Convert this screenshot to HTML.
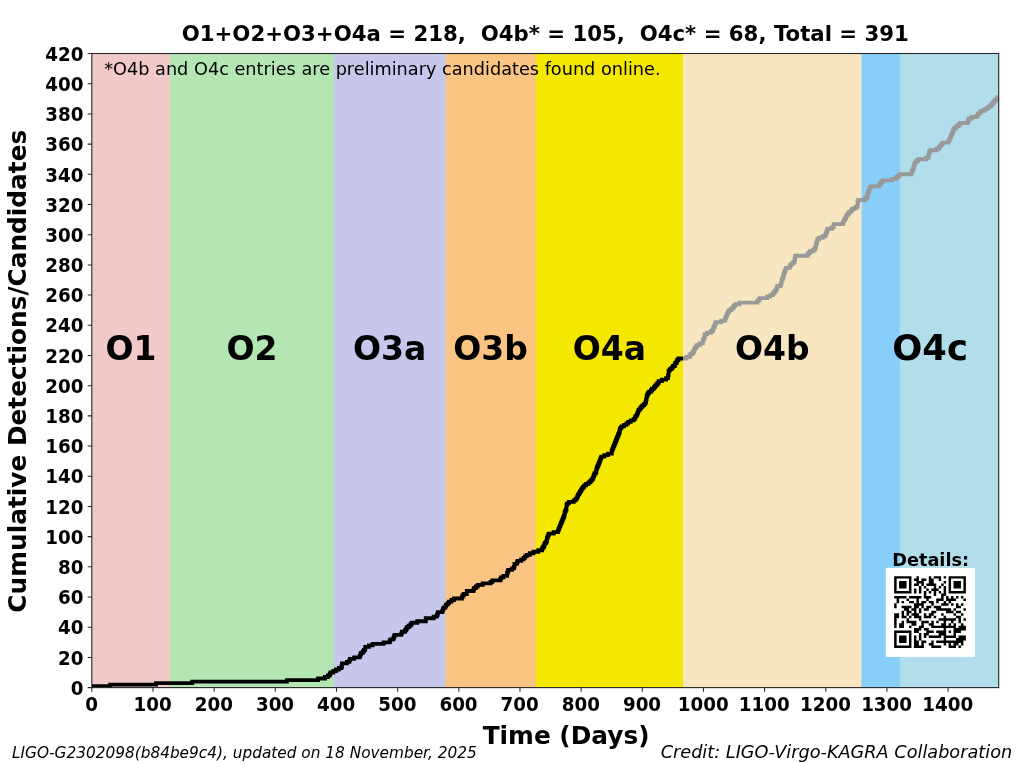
<!DOCTYPE html>
<html lang="en"><head><meta charset="utf-8"><title>Cumulative Detections/Candidates</title>
<style>html,body{margin:0;padding:0;background:#fff;overflow:hidden}svg{display:block}text{font-family:"DejaVu Sans","Liberation Sans",sans-serif;fill:#000}.b{font-weight:bold}.i{font-style:italic}</style></head><body>
<svg width="1019" height="764" viewBox="0 0 1019 764">
<rect width="1019" height="764" fill="#fff"/>
<g>
<rect x="91.85" y="53.5" width="906.95" height="634.1" fill="#f1c9c9"/>
<rect x="169.90" y="53.5" width="828.90" height="634.1" fill="#b3e6b3"/>
<rect x="333.95" y="53.5" width="664.85" height="634.1" fill="#c7c7ec"/>
<rect x="445.50" y="53.5" width="553.30" height="634.1" fill="#fac583"/>
<rect x="535.75" y="53.5" width="463.05" height="634.1" fill="#f4e800"/>
<rect x="683.00" y="53.5" width="315.80" height="634.1" fill="#f8e6c1"/>
<rect x="861.50" y="53.5" width="137.30" height="634.1" fill="#87cefa"/>
<rect x="899.95" y="53.5" width="98.85" height="634.1" fill="#b2deeb"/>
</g>
<clipPath id="ax"><rect x="91.8" y="53.5" width="906.9" height="634.1"/></clipPath>
<g clip-path="url(#ax)" fill="none" stroke-width="3.85" stroke-linejoin="miter" stroke-miterlimit="4" stroke-linecap="butt">
<polyline stroke="#000" points="91.8,686.1 110.2,686.1 110.2,684.6 156.1,684.6 156.1,683.1 192.2,683.1 192.2,681.6 287.0,681.6 287.0,680.1 318.1,680.1 318.1,678.5 324.9,678.5 324.9,677.0 327.9,677.0 327.9,675.5 329.8,675.5 329.8,674.0 330.4,674.0 330.4,672.5 333.4,672.5 333.4,671.0 335.9,671.0 335.9,669.5 338.9,669.5 338.9,668.0 341.4,668.0 341.4,666.5 342.0,666.5 342.0,665.0 342.0,665.0 342.0,663.4 346.9,663.4 346.9,661.9 349.3,661.9 349.3,660.4 349.9,660.4 349.9,658.9 354.2,658.9 354.2,657.4 359.7,657.4 359.7,655.9 360.3,655.9 360.3,654.4 361.0,654.4 361.0,652.9 362.8,652.9 362.8,651.4 364.0,651.4 364.0,649.9 365.2,649.9 365.2,648.3 365.2,648.3 365.2,646.8 368.9,646.8 368.9,645.3 372.6,645.3 372.6,643.8 383.6,643.8 383.6,642.3 389.7,642.3 389.7,640.8 390.3,640.8 390.3,639.3 393.4,639.3 393.4,637.8 394.0,637.8 394.0,636.3 394.6,636.3 394.6,634.8 401.3,634.8 401.3,633.3 401.9,633.3 401.9,631.7 405.0,631.7 405.0,630.2 406.2,630.2 406.2,628.7 406.8,628.7 406.8,627.2 408.7,627.2 408.7,625.7 410.5,625.7 410.5,624.2 411.7,624.2 411.7,622.7 417.2,622.7 417.2,621.2 425.8,621.2 425.8,619.7 425.8,619.7 425.8,618.2 433.7,618.2 433.7,616.6 436.8,616.6 436.8,615.1 437.4,615.1 437.4,613.6 438.0,613.6 438.0,612.1 442.3,612.1 442.3,610.6 442.9,610.6 442.9,609.1 443.5,609.1 443.5,607.6 445.4,607.6 445.4,606.1 446.0,606.1 446.0,604.6 447.8,604.6 447.8,603.1 449.0,603.1 449.0,601.6 451.5,601.6 451.5,600.0 453.9,600.0 453.9,598.5 461.9,598.5 461.9,597.0 462.5,597.0 462.5,595.5 463.7,595.5 463.7,594.0 466.8,594.0 466.8,592.5 466.8,592.5 466.8,591.0 473.5,591.0 473.5,589.5 474.1,589.5 474.1,588.0 475.9,588.0 475.9,586.5 477.8,586.5 477.8,584.9 482.7,584.9 482.7,583.4 490.6,583.4 490.6,581.9 492.4,581.9 492.4,580.4 500.4,580.4 500.4,578.9 501.0,578.9 501.0,577.4 503.5,577.4 503.5,575.9 507.1,575.9 507.1,574.4 507.1,574.4 507.1,572.9 507.7,572.9 507.7,571.4 508.3,571.4 508.3,569.8 512.0,569.8 512.0,568.3 513.9,568.3 513.9,566.8 514.5,566.8 514.5,565.3 514.5,565.3 514.5,563.8 516.9,563.8 516.9,562.3 517.5,562.3 517.5,560.8 521.2,560.8 521.2,559.3 523.6,559.3 523.6,557.8 524.9,557.8 524.9,556.3 526.7,556.3 526.7,554.8 529.8,554.8 529.8,553.2 533.4,553.2 533.4,551.7 535.8,551.7 538.3,551.7 538.3,550.2 542.0,550.2 542.0,548.7 542.6,548.7 542.6,547.2 543.8,547.2 543.8,545.7 544.4,545.7 544.4,544.2 545.0,544.2 545.0,542.7 546.3,542.7 546.3,541.2 546.9,541.2 546.9,538.1 547.5,538.1 547.5,536.6 548.1,536.6 548.1,535.1 548.7,535.1 548.7,533.6 553.6,533.6 553.6,532.1 557.9,532.1 557.9,530.6 558.5,530.6 558.5,529.1 559.1,529.1 559.1,527.6 559.7,527.6 559.7,526.1 560.3,526.1 560.3,524.6 560.9,524.6 560.9,523.0 561.6,523.0 561.6,521.5 562.2,521.5 562.2,520.0 562.8,520.0 562.8,518.5 563.4,518.5 563.4,517.0 564.0,517.0 564.0,515.5 564.6,515.5 564.6,512.5 565.2,512.5 565.2,511.0 565.8,511.0 565.8,509.5 566.5,509.5 566.5,504.9 567.1,504.9 567.1,503.4 568.9,503.4 568.9,501.9 573.8,501.9 573.8,500.4 575.6,500.4 575.6,498.9 576.8,498.9 576.8,497.4 577.5,497.4 577.5,495.9 578.1,495.9 578.1,494.4 579.3,494.4 579.3,492.9 579.9,492.9 579.9,491.3 581.1,491.3 581.1,489.8 581.7,489.8 581.7,488.3 583.0,488.3 583.0,486.8 584.2,486.8 584.2,485.3 586.0,485.3 586.0,483.8 588.5,483.8 588.5,482.3 590.3,482.3 590.3,480.8 591.5,480.8 591.5,479.3 592.8,479.3 592.8,477.8 593.4,477.8 593.4,476.2 594.0,476.2 594.0,474.7 594.6,474.7 594.6,473.2 595.8,473.2 595.8,471.7 596.4,471.7 596.4,468.7 597.0,468.7 597.0,467.2 597.6,467.2 597.6,465.7 598.3,465.7 598.3,464.2 598.9,464.2 598.9,462.7 599.5,462.7 599.5,461.2 600.1,461.2 600.1,459.6 600.7,459.6 600.7,458.1 601.3,458.1 601.3,456.6 604.4,456.6 604.4,455.1 608.0,455.1 608.0,453.6 611.7,453.6 611.7,450.6 612.3,450.6 612.3,449.1 612.9,449.1 612.9,447.6 613.5,447.6 613.5,446.1 614.2,446.1 614.2,444.5 614.8,444.5 614.8,443.0 615.4,443.0 615.4,441.5 616.0,441.5 616.0,440.0 616.6,440.0 616.6,438.5 617.2,438.5 617.2,437.0 617.8,437.0 617.8,435.5 618.4,435.5 618.4,434.0 619.0,434.0 619.0,432.5 619.7,432.5 619.7,429.5 620.3,429.5 620.3,427.9 621.5,427.9 621.5,426.4 623.9,426.4 623.9,424.9 626.4,424.9 626.4,423.4 628.2,423.4 628.2,421.9 630.7,421.9 630.7,420.4 633.7,420.4 633.7,418.9 635.0,418.9 635.0,417.4 635.6,417.4 635.6,415.9 636.8,415.9 636.8,414.4 637.4,414.4 637.4,412.8 638.0,412.8 638.0,411.3 638.6,411.3 638.6,409.8 639.8,409.8 639.8,408.3 641.1,408.3 641.1,406.8 642.3,406.8 642.3,405.3 644.1,405.3 644.1,403.8 645.3,403.8 645.3,402.3 646.0,402.3 646.0,399.3 646.6,399.3 646.6,396.2 647.2,396.2 647.2,394.7 647.8,394.7 647.8,393.2 649.0,393.2 649.0,391.7 650.9,391.7 650.9,390.2 652.1,390.2 652.1,388.7 653.9,388.7 653.9,387.2 655.1,387.2 655.1,385.7 656.4,385.7 656.4,384.2 657.6,384.2 657.6,382.7 658.8,382.7 658.8,381.1 661.9,381.1 661.9,379.6 666.1,379.6 666.1,378.1 668.0,378.1 668.0,375.1 668.6,375.1 668.6,370.6 669.8,370.6 669.8,369.1 671.6,369.1 671.6,367.6 672.9,367.6 672.9,366.0 674.7,366.0 674.7,364.5 675.3,364.5 675.3,363.0 676.5,363.0 676.5,361.5 677.2,361.5 677.2,360.0 678.4,360.0 678.4,358.5 683.0,358.5"/>
<polyline stroke="#999" stroke-width="3.9" points="683.0,358.5 686.3,358.5 686.3,357.0 689.4,357.0 689.4,355.5 690.6,355.5 690.6,354.0 692.4,354.0 692.4,352.5 693.7,352.5 693.7,350.9 694.3,350.9 694.3,349.4 694.9,349.4 694.9,347.9 696.1,347.9 696.1,346.4 697.3,346.4 697.3,344.9 699.8,344.9 699.8,343.4 702.8,343.4 702.8,340.4 703.5,340.4 703.5,338.9 704.1,338.9 704.1,337.4 704.7,337.4 704.7,334.3 707.1,334.3 707.1,332.8 710.8,332.8 710.8,331.3 712.6,331.3 712.6,329.8 713.2,329.8 713.2,328.3 713.8,328.3 713.8,326.8 714.5,326.8 714.5,325.3 715.1,325.3 715.1,323.8 715.7,323.8 715.7,322.3 721.2,322.3 721.2,320.8 724.9,320.8 724.9,319.2 725.5,319.2 725.5,317.7 726.1,317.7 726.1,316.2 726.7,316.2 726.7,314.7 727.3,314.7 727.3,313.2 727.9,313.2 727.9,311.7 729.1,311.7 729.1,310.2 731.0,310.2 731.0,308.7 732.8,308.7 732.8,307.2 734.0,307.2 734.0,305.7 735.3,305.7 735.3,304.2 739.5,304.2 739.5,302.6 757.3,302.6 757.3,301.1 758.5,301.1 758.5,299.6 759.7,299.6 759.7,298.1 767.1,298.1 767.1,296.6 770.1,296.6 770.1,295.1 772.6,295.1 772.6,293.6 773.8,293.6 773.8,292.1 775.0,292.1 775.0,290.6 776.2,290.6 776.2,289.1 776.8,289.1 776.8,287.5 777.5,287.5 777.5,286.0 780.5,286.0 780.5,284.5 781.1,284.5 781.1,283.0 781.7,283.0 781.7,280.0 782.3,280.0 782.3,278.5 783.0,278.5 783.0,277.0 783.6,277.0 783.6,274.0 784.2,274.0 784.2,272.4 784.8,272.4 784.8,270.9 785.4,270.9 785.4,269.4 786.0,269.4 786.0,267.9 789.7,267.9 789.7,266.4 790.3,266.4 790.3,264.9 791.5,264.9 791.5,263.4 793.4,263.4 793.4,261.9 794.6,261.9 794.6,258.9 795.2,258.9 795.2,255.8 807.4,255.8 807.4,254.3 808.6,254.3 808.6,252.8 809.9,252.8 809.9,251.3 812.9,251.3 812.9,249.8 814.8,249.8 814.8,248.3 815.4,248.3 815.4,246.8 816.0,246.8 816.0,243.8 816.6,243.8 816.6,242.3 817.2,242.3 817.2,239.2 819.0,239.2 819.0,237.7 822.7,237.7 822.7,236.2 825.2,236.2 825.2,234.7 825.8,234.7 825.8,233.2 826.4,233.2 826.4,231.7 827.0,231.7 827.0,230.2 827.6,230.2 827.6,228.7 831.9,228.7 831.9,227.2 833.7,227.2 833.7,224.1 842.9,224.1 842.9,222.6 843.5,222.6 843.5,221.1 844.1,221.1 844.1,219.6 845.3,219.6 845.3,218.1 846.0,218.1 846.0,216.6 846.6,216.6 846.6,215.1 847.8,215.1 847.8,213.6 849.0,213.6 849.0,212.1 850.8,212.1 850.8,210.6 852.1,210.6 852.1,209.0 854.5,209.0 854.5,207.5 857.0,207.5 857.0,206.0 857.6,206.0 857.6,201.5 858.2,201.5 858.2,200.0 864.9,200.0 864.9,198.5 866.7,198.5 866.7,197.0 867.4,197.0 867.4,193.9 868.0,193.9 868.0,192.4 868.6,192.4 868.6,190.9 869.2,190.9 869.2,189.4 869.8,189.4 869.8,187.9 870.4,187.9 870.4,186.4 879.0,186.4 879.0,184.9 880.2,184.9 880.2,183.4 881.4,183.4 881.4,181.9 882.6,181.9 882.6,180.4 891.8,180.4 891.8,178.9 896.1,178.9 896.1,177.3 897.9,177.3 897.9,175.8 899.8,175.8 899.8,174.3 911.4,174.3 911.4,172.8 912.0,172.8 912.0,171.3 912.6,171.3 912.6,169.8 913.2,169.8 913.2,168.3 913.8,168.3 913.8,165.3 914.5,165.3 914.5,163.8 915.1,163.8 915.1,162.2 916.3,162.2 916.3,160.7 918.1,160.7 918.1,159.2 926.1,159.2 926.1,157.7 928.5,157.7 928.5,154.7 929.1,154.7 929.1,151.7 930.4,151.7 930.4,150.2 936.5,150.2 936.5,148.7 938.9,148.7 938.9,147.1 940.1,147.1 940.1,145.6 941.4,145.6 941.4,144.1 942.6,144.1 942.6,142.6 948.1,142.6 948.1,141.1 949.3,141.1 949.3,139.6 949.9,139.6 949.9,138.1 950.5,138.1 950.5,136.6 951.1,136.6 951.1,135.1 951.8,135.1 951.8,133.6 952.4,133.6 952.4,132.1 953.0,132.1 953.0,130.5 953.6,130.5 953.6,129.0 954.8,129.0 954.8,127.5 956.7,127.5 956.7,126.0 958.5,126.0 958.5,124.5 960.3,124.5 960.3,123.0 967.7,123.0 967.7,121.5 968.3,121.5 968.3,120.0 968.9,120.0 968.9,118.5 971.9,118.5 971.9,117.0 976.8,117.0 976.8,115.4 978.1,115.4 978.1,113.9 979.3,113.9 979.3,112.4 981.1,112.4 981.1,110.9 984.2,110.9 984.2,109.4 986.6,109.4 986.6,107.9 989.1,107.9 989.1,106.4 990.9,106.4 990.9,104.9 992.1,104.9 992.1,103.4 993.3,103.4 993.3,101.9 994.6,101.9 994.6,100.3 996.4,100.3 996.4,98.8 997.6,98.8 997.6,97.3 997.9,97.3"/>
</g>
<rect x="885.8" y="567.9" width="89.2" height="89.0" fill="#fff"/>
<path fill="#000" d="M894.15 576.15h17.32v2.47h-17.32zM916.42 576.15h2.47v2.47h-2.47zM928.79 576.15h2.47v2.47h-2.47zM933.73 576.15h7.42v2.47h-7.42zM943.63 576.15h2.47v2.47h-2.47zM948.58 576.15h17.32v2.47h-17.32zM894.15 578.62h2.47v2.47h-2.47zM908.99 578.62h2.47v2.47h-2.47zM913.94 578.62h4.95v2.47h-4.95zM921.36 578.62h4.95v2.47h-4.95zM928.79 578.62h4.95v2.47h-4.95zM938.68 578.62h2.47v2.47h-2.47zM948.58 578.62h2.47v2.47h-2.47zM963.42 578.62h2.47v2.47h-2.47zM894.15 581.10h2.47v2.47h-2.47zM899.10 581.10h7.42v2.47h-7.42zM908.99 581.10h2.47v2.47h-2.47zM916.42 581.10h7.42v2.47h-7.42zM928.79 581.10h4.95v2.47h-4.95zM943.63 581.10h2.47v2.47h-2.47zM948.58 581.10h2.47v2.47h-2.47zM953.53 581.10h7.42v2.47h-7.42zM963.42 581.10h2.47v2.47h-2.47zM894.15 583.57h2.47v2.47h-2.47zM899.10 583.57h7.42v2.47h-7.42zM908.99 583.57h2.47v2.47h-2.47zM913.94 583.57h4.95v2.47h-4.95zM921.36 583.57h2.47v2.47h-2.47zM926.31 583.57h9.90v2.47h-9.90zM941.16 583.57h2.47v2.47h-2.47zM948.58 583.57h2.47v2.47h-2.47zM953.53 583.57h7.42v2.47h-7.42zM963.42 583.57h2.47v2.47h-2.47zM894.15 586.05h2.47v2.47h-2.47zM899.10 586.05h7.42v2.47h-7.42zM908.99 586.05h2.47v2.47h-2.47zM918.89 586.05h2.47v2.47h-2.47zM923.84 586.05h2.47v2.47h-2.47zM933.73 586.05h2.47v2.47h-2.47zM938.68 586.05h2.47v2.47h-2.47zM943.63 586.05h2.47v2.47h-2.47zM948.58 586.05h2.47v2.47h-2.47zM953.53 586.05h7.42v2.47h-7.42zM963.42 586.05h2.47v2.47h-2.47zM894.15 588.52h2.47v2.47h-2.47zM908.99 588.52h2.47v2.47h-2.47zM913.94 588.52h2.47v2.47h-2.47zM918.89 588.52h2.47v2.47h-2.47zM926.31 588.52h2.47v2.47h-2.47zM931.26 588.52h7.42v2.47h-7.42zM943.63 588.52h2.47v2.47h-2.47zM948.58 588.52h2.47v2.47h-2.47zM963.42 588.52h2.47v2.47h-2.47zM894.15 590.99h17.32v2.47h-17.32zM913.94 590.99h2.47v2.47h-2.47zM918.89 590.99h2.47v2.47h-2.47zM923.84 590.99h2.47v2.47h-2.47zM928.79 590.99h2.47v2.47h-2.47zM933.73 590.99h2.47v2.47h-2.47zM938.68 590.99h2.47v2.47h-2.47zM943.63 590.99h2.47v2.47h-2.47zM948.58 590.99h17.32v2.47h-17.32zM923.84 593.47h2.47v2.47h-2.47zM933.73 593.47h2.47v2.47h-2.47zM941.16 593.47h4.95v2.47h-4.95zM894.15 595.94h12.37v2.47h-12.37zM908.99 595.94h12.37v2.47h-12.37zM923.84 595.94h7.42v2.47h-7.42zM941.16 595.94h2.47v2.47h-2.47zM946.10 595.94h2.47v2.47h-2.47zM951.05 595.94h2.47v2.47h-2.47zM956.00 595.94h2.47v2.47h-2.47zM960.95 595.94h2.47v2.47h-2.47zM896.62 598.42h2.47v2.47h-2.47zM906.52 598.42h2.47v2.47h-2.47zM916.42 598.42h2.47v2.47h-2.47zM926.31 598.42h2.47v2.47h-2.47zM936.21 598.42h7.42v2.47h-7.42zM946.10 598.42h9.90v2.47h-9.90zM963.42 598.42h2.47v2.47h-2.47zM896.62 600.89h2.47v2.47h-2.47zM901.57 600.89h2.47v2.47h-2.47zM908.99 600.89h4.95v2.47h-4.95zM916.42 600.89h2.47v2.47h-2.47zM921.36 600.89h4.95v2.47h-4.95zM928.79 600.89h4.95v2.47h-4.95zM936.21 600.89h2.47v2.47h-2.47zM943.63 600.89h2.47v2.47h-2.47zM948.58 600.89h2.47v2.47h-2.47zM894.15 603.36h2.47v2.47h-2.47zM913.94 603.36h9.90v2.47h-9.90zM931.26 603.36h2.47v2.47h-2.47zM941.16 603.36h7.42v2.47h-7.42zM951.05 603.36h2.47v2.47h-2.47zM956.00 603.36h2.47v2.47h-2.47zM960.95 603.36h2.47v2.47h-2.47zM894.15 605.84h2.47v2.47h-2.47zM901.57 605.84h9.90v2.47h-9.90zM913.94 605.84h4.95v2.47h-4.95zM921.36 605.84h2.47v2.47h-2.47zM926.31 605.84h4.95v2.47h-4.95zM933.73 605.84h7.42v2.47h-7.42zM956.00 605.84h4.95v2.47h-4.95zM904.05 608.31h4.95v2.47h-4.95zM911.47 608.31h4.95v2.47h-4.95zM918.89 608.31h2.47v2.47h-2.47zM923.84 608.31h4.95v2.47h-4.95zM936.21 608.31h14.84v2.47h-14.84zM953.53 608.31h2.47v2.47h-2.47zM963.42 608.31h2.47v2.47h-2.47zM901.57 610.79h2.47v2.47h-2.47zM906.52 610.79h4.95v2.47h-4.95zM913.94 610.79h2.47v2.47h-2.47zM918.89 610.79h2.47v2.47h-2.47zM931.26 610.79h4.95v2.47h-4.95zM946.10 610.79h7.42v2.47h-7.42zM956.00 610.79h4.95v2.47h-4.95zM894.15 613.26h4.95v2.47h-4.95zM901.57 613.26h2.47v2.47h-2.47zM906.52 613.26h2.47v2.47h-2.47zM911.47 613.26h7.42v2.47h-7.42zM923.84 613.26h2.47v2.47h-2.47zM928.79 613.26h4.95v2.47h-4.95zM941.16 613.26h2.47v2.47h-2.47zM953.53 613.26h2.47v2.47h-2.47zM960.95 613.26h2.47v2.47h-2.47zM894.15 615.73h4.95v2.47h-4.95zM901.57 615.73h4.95v2.47h-4.95zM908.99 615.73h2.47v2.47h-2.47zM913.94 615.73h7.42v2.47h-7.42zM923.84 615.73h7.42v2.47h-7.42zM933.73 615.73h2.47v2.47h-2.47zM943.63 615.73h2.47v2.47h-2.47zM956.00 615.73h4.95v2.47h-4.95zM894.15 618.21h2.47v2.47h-2.47zM906.52 618.21h2.47v2.47h-2.47zM918.89 618.21h2.47v2.47h-2.47zM938.68 618.21h17.32v2.47h-17.32zM958.47 618.21h2.47v2.47h-2.47zM963.42 618.21h2.47v2.47h-2.47zM894.15 620.68h2.47v2.47h-2.47zM901.57 620.68h2.47v2.47h-2.47zM906.52 620.68h9.90v2.47h-9.90zM921.36 620.68h7.42v2.47h-7.42zM931.26 620.68h2.47v2.47h-2.47zM936.21 620.68h2.47v2.47h-2.47zM943.63 620.68h2.47v2.47h-2.47zM951.05 620.68h2.47v2.47h-2.47zM958.47 620.68h2.47v2.47h-2.47zM894.15 623.16h2.47v2.47h-2.47zM899.10 623.16h4.95v2.47h-4.95zM911.47 623.16h4.95v2.47h-4.95zM921.36 623.16h2.47v2.47h-2.47zM928.79 623.16h4.95v2.47h-4.95zM941.16 623.16h4.95v2.47h-4.95zM948.58 623.16h2.47v2.47h-2.47zM953.53 623.16h2.47v2.47h-2.47zM960.95 623.16h2.47v2.47h-2.47zM894.15 625.63h2.47v2.47h-2.47zM899.10 625.63h4.95v2.47h-4.95zM908.99 625.63h2.47v2.47h-2.47zM918.89 625.63h4.95v2.47h-4.95zM931.26 625.63h24.74v2.47h-24.74zM958.47 625.63h7.42v2.47h-7.42zM913.94 628.10h7.42v2.47h-7.42zM923.84 628.10h4.95v2.47h-4.95zM943.63 628.10h2.47v2.47h-2.47zM953.53 628.10h12.37v2.47h-12.37zM894.15 630.58h17.32v2.47h-17.32zM913.94 630.58h4.95v2.47h-4.95zM926.31 630.58h7.42v2.47h-7.42zM936.21 630.58h9.90v2.47h-9.90zM948.58 630.58h2.47v2.47h-2.47zM953.53 630.58h7.42v2.47h-7.42zM894.15 633.05h2.47v2.47h-2.47zM908.99 633.05h2.47v2.47h-2.47zM918.89 633.05h2.47v2.47h-2.47zM923.84 633.05h4.95v2.47h-4.95zM938.68 633.05h7.42v2.47h-7.42zM953.53 633.05h2.47v2.47h-2.47zM894.15 635.53h2.47v2.47h-2.47zM899.10 635.53h7.42v2.47h-7.42zM908.99 635.53h2.47v2.47h-2.47zM913.94 635.53h2.47v2.47h-2.47zM918.89 635.53h2.47v2.47h-2.47zM923.84 635.53h2.47v2.47h-2.47zM928.79 635.53h12.37v2.47h-12.37zM943.63 635.53h12.37v2.47h-12.37zM958.47 635.53h7.42v2.47h-7.42zM894.15 638.00h2.47v2.47h-2.47zM899.10 638.00h7.42v2.47h-7.42zM908.99 638.00h2.47v2.47h-2.47zM913.94 638.00h2.47v2.47h-2.47zM918.89 638.00h2.47v2.47h-2.47zM943.63 638.00h2.47v2.47h-2.47zM956.00 638.00h9.90v2.47h-9.90zM894.15 640.47h2.47v2.47h-2.47zM899.10 640.47h7.42v2.47h-7.42zM908.99 640.47h2.47v2.47h-2.47zM913.94 640.47h4.95v2.47h-4.95zM921.36 640.47h4.95v2.47h-4.95zM931.26 640.47h2.47v2.47h-2.47zM936.21 640.47h27.21v2.47h-27.21zM894.15 642.95h2.47v2.47h-2.47zM908.99 642.95h2.47v2.47h-2.47zM913.94 642.95h4.95v2.47h-4.95zM921.36 642.95h2.47v2.47h-2.47zM928.79 642.95h4.95v2.47h-4.95zM943.63 642.95h2.47v2.47h-2.47zM948.58 642.95h2.47v2.47h-2.47zM953.53 642.95h4.95v2.47h-4.95zM960.95 642.95h2.47v2.47h-2.47zM894.15 645.42h17.32v2.47h-17.32zM913.94 645.42h9.90v2.47h-9.90zM931.26 645.42h9.90v2.47h-9.90zM948.58 645.42h7.42v2.47h-7.42zM958.47 645.42h2.47v2.47h-2.47z"/>
<rect x="91.8" y="53.5" width="906.9" height="634.1" fill="none" stroke="#262626" stroke-width="1.1"/>
<path d="M91.85 687.60v4.13M153.01 687.60v4.13M214.17 687.60v4.13M275.33 687.60v4.13M336.49 687.60v4.13M397.65 687.60v4.13M458.81 687.60v4.13M519.97 687.60v4.13M581.13 687.60v4.13M642.29 687.60v4.13M703.45 687.60v4.13M764.61 687.60v4.13M825.77 687.60v4.13M886.93 687.60v4.13M948.09 687.60v4.13M91.85 687.60h-4.13M91.85 657.41h-4.13M91.85 627.21h-4.13M91.85 597.02h-4.13M91.85 566.83h-4.13M91.85 536.64h-4.13M91.85 506.44h-4.13M91.85 476.25h-4.13M91.85 446.06h-4.13M91.85 415.86h-4.13M91.85 385.67h-4.13M91.85 355.48h-4.13M91.85 325.29h-4.13M91.85 295.09h-4.13M91.85 264.90h-4.13M91.85 234.71h-4.13M91.85 204.51h-4.13M91.85 174.32h-4.13M91.85 144.13h-4.13M91.85 113.94h-4.13M91.85 83.74h-4.13M91.85 53.55h-4.13" stroke="#262626" stroke-width="1.05" fill="none"/>
<g class="b" font-size="18.30" text-anchor="middle" transform="scale(1,1.070)">
<text x="91.5" y="664.21">0</text>
<text x="152.7" y="664.21">100</text>
<text x="213.9" y="664.21">200</text>
<text x="275.0" y="664.21">300</text>
<text x="336.2" y="664.21">400</text>
<text x="397.3" y="664.21">500</text>
<text x="458.5" y="664.21">600</text>
<text x="519.7" y="664.21">700</text>
<text x="580.8" y="664.21">800</text>
<text x="642.0" y="664.21">900</text>
<text x="703.2" y="664.21">1000</text>
<text x="764.3" y="664.21">1100</text>
<text x="825.5" y="664.21">1200</text>
<text x="886.6" y="664.21">1300</text>
<text x="947.8" y="664.21">1400</text>
</g>
<g class="b" font-size="18.30" text-anchor="end" transform="scale(1,1.070)">
<text x="83.5" y="649.35">0</text>
<text x="83.5" y="621.13">20</text>
<text x="83.5" y="592.91">40</text>
<text x="83.5" y="564.69">60</text>
<text x="83.5" y="536.48">80</text>
<text x="83.5" y="508.26">100</text>
<text x="83.5" y="480.04">120</text>
<text x="83.5" y="451.82">140</text>
<text x="83.5" y="423.60">160</text>
<text x="83.5" y="395.39">180</text>
<text x="83.5" y="367.17">200</text>
<text x="83.5" y="338.95">220</text>
<text x="83.5" y="310.73">240</text>
<text x="83.5" y="282.52">260</text>
<text x="83.5" y="254.30">280</text>
<text x="83.5" y="226.08">300</text>
<text x="83.5" y="197.86">320</text>
<text x="83.5" y="169.65">340</text>
<text x="83.5" y="141.43">360</text>
<text x="83.5" y="113.21">380</text>
<text x="83.5" y="84.99">400</text>
<text x="83.5" y="56.78">420</text>
</g>
<text class="b" font-size="21.25" text-anchor="middle" x="545.3" y="40.8" xml:space="preserve">O1+O2+O3+O4a = 218,  O4b* = 105,  O4c* = 68, Total = 391</text>
<text font-size="17.69" x="104.2" y="74.8">*O4b and O4c entries are preliminary candidates found online.</text>
<g class="b" font-size="33" text-anchor="middle">
<text x="130.9" y="360.2">O1</text>
<text x="251.9" y="360.2">O2</text>
<text x="389.7" y="360.2">O3a</text>
<text x="490.6" y="360.2">O3b</text>
<text x="609.4" y="360.2">O4a</text>
<text x="772.2" y="360.2">O4b</text>
<text x="930.1" y="360.2" font-size="35.4">O4c</text>
</g>
<text class="b" font-size="24.8" text-anchor="middle" x="566.1" y="743.8">Time (Days)</text>
<text class="b" font-size="24.8" text-anchor="middle" transform="translate(25.5,371.2) rotate(-90)">Cumulative Detections/Candidates</text>
<text class="i" font-size="15.34" x="12.0" y="757.8">LIGO-G2302098(b84be9c4), updated on 18 November, 2025</text>
<text class="i" font-size="17.7" text-anchor="end" x="1012.2" y="758.0">Credit: LIGO-Virgo-KAGRA Collaboration</text>
<text class="b" font-size="17.69" x="892.3" y="566.2">Details:</text>
</svg></body></html>
